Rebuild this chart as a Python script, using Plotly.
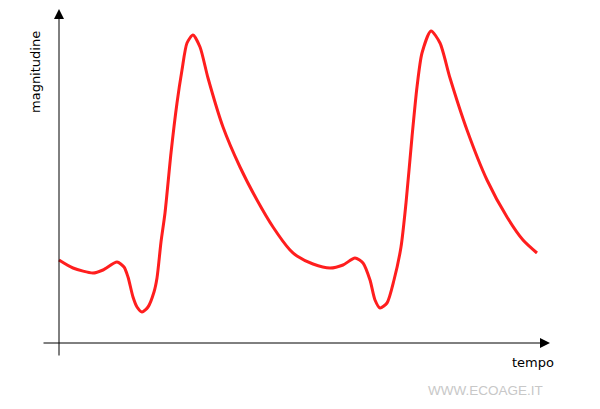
import plotly.graph_objects as go

# tempo / magnitudine (unità arbitrarie, origine sugli assi)
tempo = [0, 14, 34, 44, 58, 65, 69, 74, 78, 83, 89, 95, 98, 102, 106,
         112, 118, 123, 128, 134, 141, 149, 164, 181, 198, 214, 231, 238,
         254, 271, 284, 296, 304, 311, 316, 321, 328, 335, 342, 347, 353,
         358, 363, 372, 381, 391, 408, 428, 448, 464, 478]
magnitudine = [83, 75, 70, 73, 81, 76, 66, 46, 36, 31, 36, 51, 65, 101, 130,
               190, 240, 273, 300, 308, 296, 265, 216, 176, 143, 116, 93, 87,
               79, 75, 78, 85, 80, 63, 43, 35, 40, 63, 96, 140, 206,
               256, 290, 312, 300, 265, 213, 163, 126, 103, 90]

fig = go.Figure()
fig.add_trace(go.Scatter(
    x=tempo, y=magnitudine, mode="lines",
    line=dict(color="#ff1e1e", width=3, shape="spline", smoothing=0.7),
    hoverinfo="skip", showlegend=False))

# assi disegnati come frecce
fig.add_annotation(x=0, y=334, ax=0, ay=-14, xref="x", yref="y",
                   axref="x", ayref="y", text="", showarrow=True,
                   arrowhead=2, arrowsize=2, arrowwidth=1, arrowcolor="black")
fig.add_annotation(x=491, y=0, ax=-17, ay=0, xref="x", yref="y",
                   axref="x", ayref="y", text="", showarrow=True,
                   arrowhead=2, arrowsize=2, arrowwidth=1, arrowcolor="black")

fig.add_annotation(x=-24, y=271, text="magnitudine", textangle=-90,
                   showarrow=False, font=dict(family="DejaVu Sans", size=13, color="black"))
fig.add_annotation(x=474, y=-19, text="tempo", showarrow=False,
                   font=dict(family="DejaVu Sans", size=13, color="black"))
fig.add_annotation(x=426, y=-47, text="WWW.ECOAGE.IT", showarrow=False,
                   font=dict(family="Liberation Sans", size=13.5, color="#c8c8c8"))

# la pagina ha 8px di margine sul body: range spostati per compensare
fig.update_xaxes(range=[-51, 549], visible=False)
fig.update_yaxes(range=[-74, 335], visible=False)
fig.update_layout(width=600, height=409, margin=dict(l=0, r=0, t=0, b=0),
                  plot_bgcolor="white", paper_bgcolor="white")

fig.write_html("out.html")
